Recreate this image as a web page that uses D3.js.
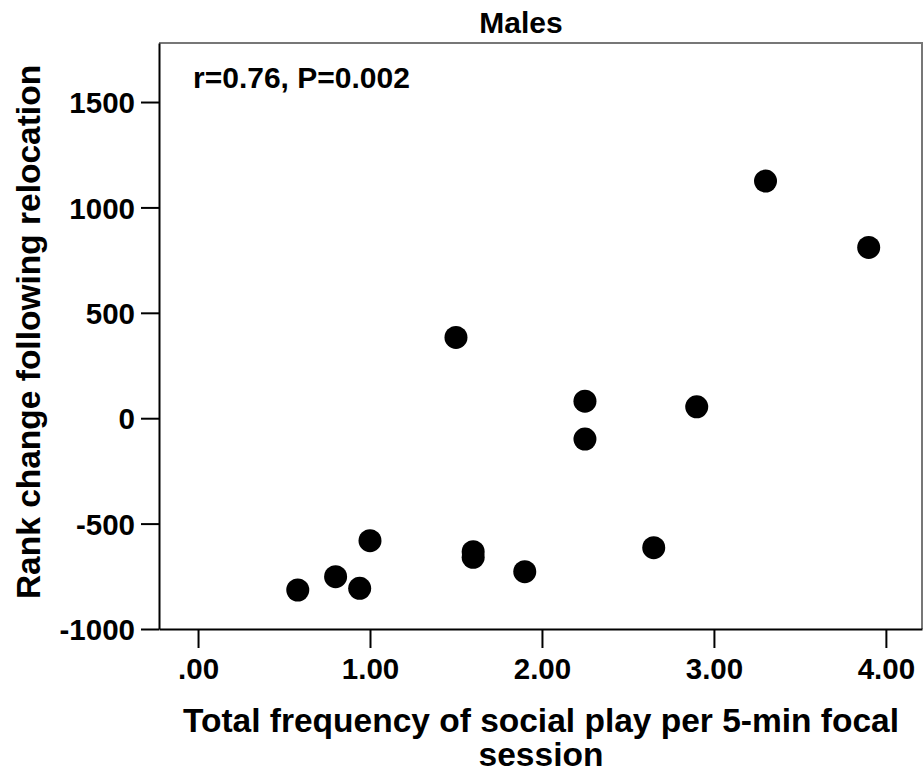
<!DOCTYPE html>
<html>
<head>
<meta charset="utf-8">
<script src="https://cdn.jsdelivr.net/npm/d3@7"></script>
<style>
  body { margin: 0; background: #fff; }
  text { font-family: "Liberation Sans", Arial, sans-serif; font-weight: bold; fill: #000; }
</style>
</head>
<body>
<div id="chart"></div>
<script>
// Data
const playFreq = [0.58, 0.80, 0.94, 1.00, 1.50, 1.60, 1.60, 1.90, 2.25, 2.25, 2.65, 2.90, 3.30, 3.90];
const rankChange = [-815, -752, -807, -581, 383, -633, -660, -728, 81, -99, -614, 54, 1125, 810];
const xTicks = [0, 1, 2, 3, 4];
const yTicks = [-1000, -500, 0, 500, 1000, 1500];

const width = 923, height = 773;
const margin = { top: 43, right: 1, bottom: 144, left: 159 };

const svg = d3.select("#chart").append("svg").attr("width", width).attr("height", height);

const x = d3.scaleLinear().domain([-0.227, 4.21]).range([margin.left, width - margin.right]);
const y = d3.scaleLinear().domain([-1000, 1780]).range([height - margin.bottom, margin.top]);

// Frame: top and right edges in grey
svg.append("path")
    .attr("d", `M${margin.left},${margin.top}H${width - margin.right}V${height - margin.bottom}`)
    .attr("fill", "none")
    .attr("stroke", "#777")
    .attr("stroke-width", 2);

// Points
svg.append("g").selectAll("circle")
    .data(playFreq.map((v, i) => ({ x: v, y: rankChange[i] })))
    .join("circle")
    .attr("cx", d => x(d.x))
    .attr("cy", d => y(d.y))
    .attr("r", 11.5)
    .attr("fill", "#000");

// Axes
const fmtX = d => d3.format(".2f")(d).replace(/^0\./, ".");
const fmtY = d => String(d); // plain hyphen for negatives
const xAxis = svg.append("g")
    .attr("transform", `translate(0, ${height - margin.bottom})`)
    .call(d3.axisBottom(x).tickValues(xTicks).tickFormat(fmtX).tickSize(19).tickSizeOuter(0).tickPadding(10));
const yAxis = svg.append("g")
    .attr("transform", `translate(${margin.left}, 0)`)
    .call(d3.axisLeft(y).tickValues(yTicks).tickFormat(fmtY).tickSize(18).tickSizeOuter(0).tickPadding(6));

[xAxis, yAxis].forEach(g => {
    g.select(".domain").attr("stroke", "#000").attr("stroke-width", 2);
    g.selectAll(".tick line").attr("stroke", "#000").attr("stroke-width", 2);
    g.selectAll(".tick text").style("font-size", "29.5px").style("font-family", "'Liberation Sans', Arial, sans-serif").style("font-weight", "bold");
});
yAxis.selectAll(".tick text").attr("dy", "0.36em");

// Title
svg.append("text").attr("x", 521).attr("y", 33).attr("text-anchor", "middle")
    .style("font-size", "30px").text("Males");

// Annotation
svg.append("text").attr("x", 193).attr("y", 88)
    .style("font-size", "30px").text("r=0.76, P=0.002");

// Axis titles
const xTitle = svg.append("text").attr("text-anchor", "middle").style("font-size", "33.5px");
xTitle.append("tspan").attr("x", 541).attr("y", 732).text("Total frequency of social play per 5-min focal");
xTitle.append("tspan").attr("x", 541).attr("y", 766).text("session");

svg.append("text")
    .attr("transform", `translate(40, 332) rotate(-90)`)
    .attr("text-anchor", "middle")
    .style("font-size", "33.5px")
    .text("Rank change following relocation");
</script>
</body>
</html>
